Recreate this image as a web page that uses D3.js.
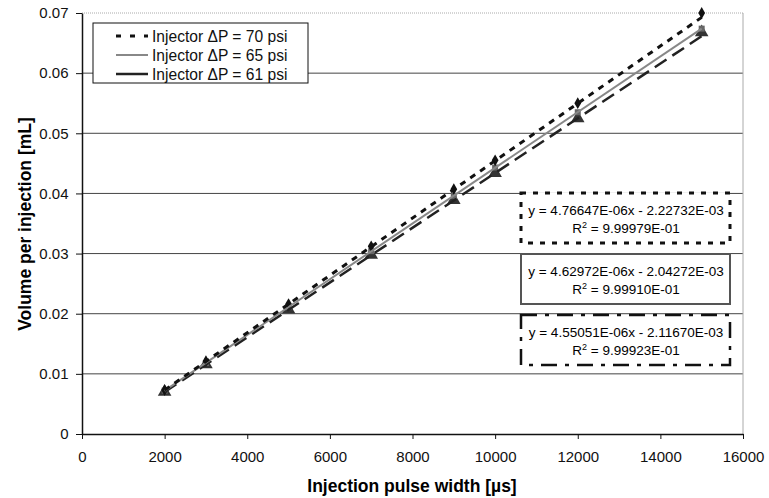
<!DOCTYPE html>
<html><head><meta charset="utf-8">
<script src="https://cdn.jsdelivr.net/npm/d3@7"></script>
<style>body{margin:0;background:#fff}svg{display:block}text{font-family:Arial,"Liberation Sans",sans-serif}</style>
</head><body><svg id="c" width="769" height="498"></svg>
<script>
const pulse = [2000, 3000, 5000, 7000, 9000, 10000, 12000, 15000];
const seriesNames = ["Injector \u0394P = 70 psi", "Injector \u0394P = 65 psi", "Injector \u0394P = 61 psi"];
const v70 = [0.0073, 0.0121, 0.0216, 0.0312, 0.0407, 0.0455, 0.0550, 0.0700];
const v65 = [0.0072, 0.0118, 0.0211, 0.0304, 0.0396, 0.0443, 0.0535, 0.0674];
const v61 = [0.0070, 0.0116, 0.0207, 0.0298, 0.0389, 0.0434, 0.0525, 0.0668];
const slopes = [4.76647e-6, 4.62972e-6, 4.55051e-6];
const intercepts = [-2.22732e-3, -2.04272e-3, -2.11670e-3];
const eqLabels = ["y = 4.76647E-06x - 2.22732E-03", "y = 4.62972E-06x - 2.04272E-03", "y = 4.55051E-06x - 2.11670E-03"];
const r2Labels = ["9.99979E-01", "9.99910E-01", "9.99923E-01"];
const xTicks = [0, 2000, 4000, 6000, 8000, 10000, 12000, 14000, 16000];
const yTicks = [0, 0.01, 0.02, 0.03, 0.04, 0.05, 0.06, 0.07];

const svg = d3.select("#c");
const x = d3.scaleLinear().domain([0, 16000]).range([82, 743]);
const y = d3.scaleLinear().domain([0, 0.07]).range([434, 13]);

// gridlines
svg.append("g").selectAll("line").data(yTicks.filter(d => d > 0 && d < 0.07)).join("line")
  .attr("x1", x(0)).attr("x2", x(16000)).attr("y1", d => y(d)).attr("y2", d => y(d))
  .attr("stroke", "#444").attr("stroke-width", 1);
// top & right border
svg.append("line").attr("x1", x(0)).attr("x2", x(16000)).attr("y1", y(0.07)).attr("y2", y(0.07))
  .attr("stroke", "#aaa").attr("stroke-dasharray", "1,1");
svg.append("line").attr("x1", x(16000)).attr("x2", x(16000)).attr("y1", y(0.07)).attr("y2", y(0))
  .attr("stroke", "#aaa");

// axes
const xa = svg.append("g").attr("transform", `translate(0,${y(0)})`)
  .call(d3.axisBottom(x).tickValues(xTicks).tickSize(5).tickSizeOuter(0).tickFormat(d3.format("d")));
xa.selectAll("text").attr("font-size", 15).attr("dy", "1.35em").attr("fill", "#111");
const ya = svg.append("g").attr("transform", `translate(${x(0)},0)`)
  .call(d3.axisLeft(y).tickValues(yTicks).tickSize(6).tickSizeOuter(0).tickFormat(d => d === 0 ? "0" : d3.format(".2f")(d)));
ya.selectAll("text").attr("font-size", 15).attr("dx", "-0.3em").attr("fill", "#111");
svg.selectAll(".domain").attr("stroke", "#111").attr("stroke-width", 1.5);
svg.selectAll(".tick line").attr("stroke", "#111");

// axis titles
svg.append("text").attr("x", 412).attr("y", 492).attr("text-anchor", "middle")
  .attr("font-weight", "bold").attr("font-size", 17.5).text("Injection pulse width [\u00b5s]");
svg.append("text").attr("transform", "translate(31,224) rotate(-90)").attr("text-anchor", "middle")
  .attr("font-weight", "bold").attr("font-size", 17.5).text("Volume per injection [mL]");

const styles = [
  {stroke: "#111", width: 3, dash: "6,6"},
  {stroke: "#888", width: 2, dash: null},
  {stroke: "#222", width: 2.5, dash: "14,7"}
];

// markers
// 61 psi triangles
svg.append("g").selectAll("path").data(pulse.map((p, i) => [p, v61[i]])).join("path")
  .attr("d", d3.symbol().type(d3.symbolTriangle).size(80))
  .attr("transform", d => `translate(${x(d[0])},${y(d[1])})`).attr("fill", "#333");
// 65 psi squares
svg.append("g").selectAll("path").data(pulse.map((p, i) => [p, v65[i]])).join("path")
  .attr("d", d3.symbol().type(d3.symbolSquare).size(36))
  .attr("transform", d => `translate(${x(d[0])},${y(d[1])})`).attr("fill", "#666");
// 70 psi diamonds
svg.append("g").selectAll("path").data(pulse.map((p, i) => [p, v70[i]])).join("path")
  .attr("d", d3.symbol().type(d3.symbolDiamond).size(40))
  .attr("transform", d => `translate(${x(d[0])},${y(d[1])})`).attr("fill", "#111");

// trend lines
const line = d3.line().x(d => x(d[0])).y(d => y(d[1]));
[2, 1, 0].forEach(i => {
  const pts = [pulse[0], pulse[pulse.length - 1]].map(p => [p, slopes[i] * p + intercepts[i]]);
  svg.append("path").attr("d", line(pts)).attr("fill", "none")
    .attr("stroke", styles[i].stroke).attr("stroke-width", styles[i].width)
    .attr("stroke-dasharray", styles[i].dash);
});

// legend
const lg = svg.append("g");
lg.append("rect").attr("x", 93).attr("y", 23).attr("width", 215).attr("height", 60)
  .attr("fill", "#fff").attr("stroke", "#111").attr("stroke-width", 1);
seriesNames.forEach((n, i) => {
  const cy = 36 + i * 19;
  lg.append("line").attr("x1", 116).attr("x2", 148).attr("y1", cy).attr("y2", cy)
    .attr("stroke", styles[i].stroke).attr("stroke-width", styles[i].width)
    .attr("stroke-dasharray", i === 0 ? "5,9" : null);
  lg.append("text").attr("x", 152).attr("y", cy + 5.5).attr("font-size", 15.6).attr("fill", "#111").text(n);
});

// equation boxes
const boxes = [
  {y0: 193, dash: "5,7", width: 3},
  {y0: 254, dash: null, width: 2},
  {y0: 315, dash: "16,8,4,8", width: 2.5}
];
boxes.forEach((b, i) => {
  const g = svg.append("g");
  g.append("rect").attr("x", 521).attr("y", b.y0).attr("width", 209).attr("height", 50)
    .attr("fill", "#fff").attr("stroke", i === 1 ? "#555" : "#111")
    .attr("stroke-width", b.width).attr("stroke-dasharray", b.dash);
  g.append("text").attr("x", 626).attr("y", b.y0 + 22).attr("text-anchor", "middle")
    .attr("font-size", 13.5).attr("fill", "#000").text(eqLabels[i]);
  const t = g.append("text").attr("x", 626).attr("y", b.y0 + 40).attr("text-anchor", "middle")
    .attr("font-size", 13.5).attr("fill", "#000");
  t.append("tspan").text("R");
  t.append("tspan").attr("dy", -5).attr("font-size", 9).text("2");
  t.append("tspan").attr("dy", 5).text(" = " + r2Labels[i]);
});
</script></body></html>
